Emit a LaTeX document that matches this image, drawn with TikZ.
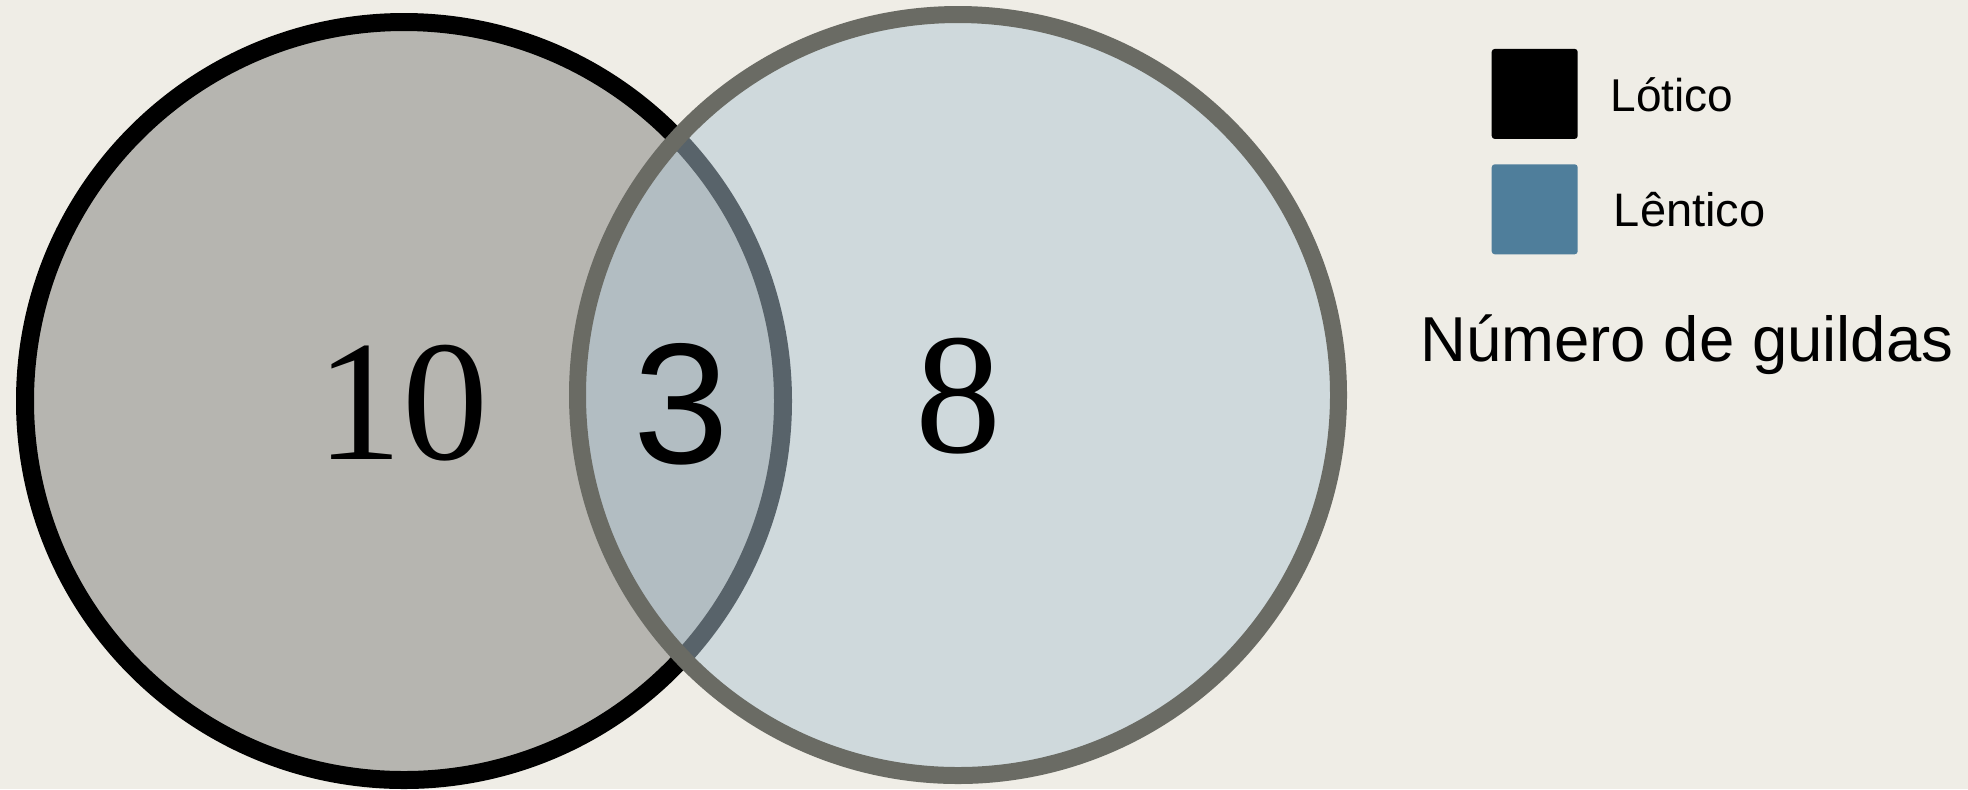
\documentclass[tikz,border=0pt]{standalone}
\usepackage{fontspec}
\setmainfont{Liberation Serif}
\newfontfamily\sansfont{Liberation Sans}
\usetikzlibrary{positioning}
\definecolor{PaperBg}{RGB}{239,237,230}
\definecolor{LoticoFill}{RGB}{182,181,176}
\definecolor{LenticoFill}{RGB}{176,198,212}
\definecolor{LenticoEdge}{RGB}{106,107,100}
\definecolor{LenticoKey}{RGB}{79,126,155}
\tikzset{
  x=0.5pt,y=-0.5pt,
  setfill/.style={line width=9pt},
  countlbl/.style={inner sep=0pt,anchor=base,font=\fontsize{86}{90}\selectfont},
  keybox/.style={rounded corners=1.5pt,minimum width=43pt,minimum height=45pt,inner sep=0pt},
  keytext/.style={inner sep=0pt,anchor=base west,font=\sansfont\fontsize{23}{26}\selectfont}
}

\begin{document}
\begin{tikzpicture}
  \fill[PaperBg] (0,0) rectangle (1968,789);
  \useasboundingbox (0,0) rectangle (1968,789);
  % the two sets
  \fill[LoticoFill] (404,401) circle[radius=379];
  \draw[setfill,black] (404,401) circle[radius=379];
  \fill[LenticoFill,fill opacity=0.5] (958,395) circle[radius=380.5];
  \draw[setfill,line width=8.5pt,LenticoEdge] (958,395) circle[radius=380.5];
  % counts
  \node[countlbl] (onlylot) at (402,459) {10};
  \node[countlbl,font=\sansfont\fontsize{86}{90}\selectfont] (both) at (681,463) {3};
  \node[countlbl] (onlylen) at (958,452) {8};
  % legend
  \node[keybox,fill=black] (lotbox) at (1534.7,93.9) {};
  \node[keybox,fill=LenticoKey,below=12.3pt of lotbox] (lenbox) {};
  \node[keytext] (lotlbl) at (1610,111) {Lótico};
  \node[keytext,font=\sansfont\fontsize{23.5}{26}\selectfont] (lenlbl) at (1613.5,226) {Lêntico};
  \node[keytext,font=\sansfont\fontsize{31.75}{36}\selectfont] (title) at (1420,361) {Número de guildas};
\end{tikzpicture}
\end{document}
